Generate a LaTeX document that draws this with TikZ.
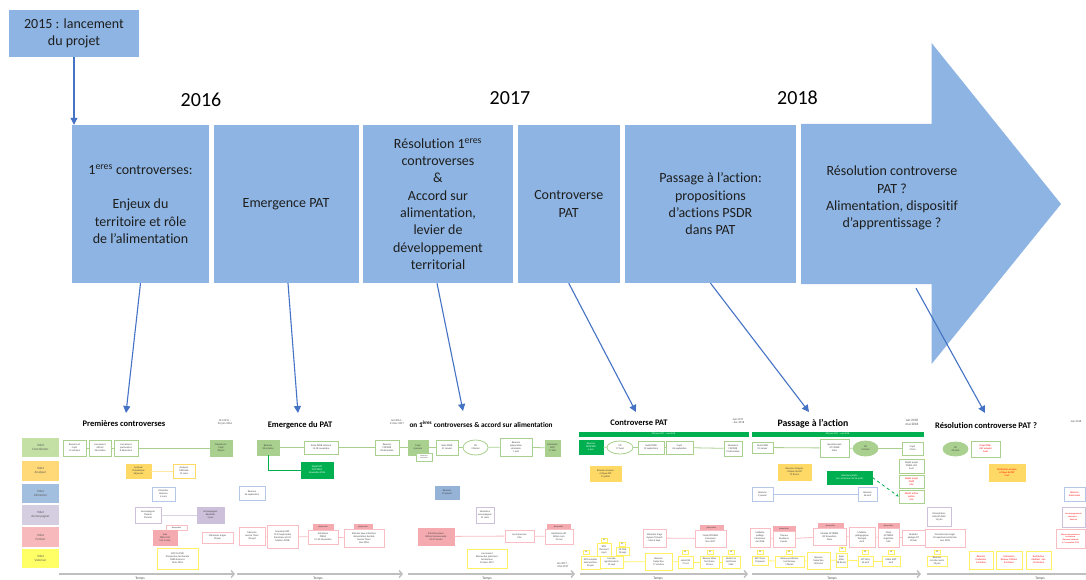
\documentclass[tikz,border=0pt]{standalone}
\usepackage{fontspec}
\setmainfont{Carlito}[Ligatures=NoCommon]
\usetikzlibrary{arrows.meta,shapes.geometric,calc}
\definecolor{pblue}{RGB}{141,180,226}
\definecolor{lnk}{RGB}{68,114,196}
\definecolor{vG}{RGB}{196,224,164}
\definecolor{vO}{RGB}{255,217,120}
\definecolor{vB}{RGB}{163,191,223}
\definecolor{vL}{RGB}{213,205,224}
\definecolor{vP}{RGB}{247,185,188}
\definecolor{vY}{RGB}{255,255,102}
\definecolor{gOut}{RGB}{169,208,142}
\definecolor{gFil}{RGB}{169,208,142}
\definecolor{gDk}{RGB}{0,176,80}
\definecolor{oFil}{RGB}{255,217,102}
\definecolor{bOut}{RGB}{180,199,231}
\definecolor{bFil}{RGB}{149,179,215}
\definecolor{lOut}{RGB}{204,192,218}
\definecolor{pOut}{RGB}{248,190,195}
\definecolor{pFil}{RGB}{245,170,175}
\definecolor{yOut}{RGB}{255,240,100}
\definecolor{tgray}{RGB}{191,191,191}
\definecolor{rtxt}{RGB}{255,0,0}
\definecolor{ink}{RGB}{30,30,30}
\newcommand\bx[7]{\node[sb,#6,minimum width={#4-#2},minimum height={#5-#3}] (#1) at ({(#2+#4)/2},{(#3+#5)/2}) {#7};}
\newcommand\ctag[3]{\node[ctagS] (#1) at (#2,#3) {C3};}
\begin{document}
\begin{tikzpicture}[x=1pt,y=-1pt,
  phase/.style={rectangle,fill=pblue,inner sep=2pt,align=center,text=ink,font=\fontsize{14}{17.3}\selectfont},
  yr/.style={font=\fontsize{20}{22}\selectfont,text=black},
  conn/.style={draw=lnk,line width=1.1pt,-{Triangle[length=7pt,width=7pt]}},
  sb/.style={rectangle,inner sep=0.2pt,line width=0.8pt,align=center,text=black!75,font=\fontsize{2.5}{3}\selectfont},
  gO/.style={draw=gOut,fill=white},
  gF/.style={draw=gFil,fill=gFil},
  gD/.style={draw=gDk,fill=gDk,text=white},
  oO/.style={draw=oFil,fill=white},
  oF/.style={draw=oFil,fill=oFil},
  bO/.style={draw=bOut,fill=white},
  bF/.style={draw=bFil,fill=bFil},
  lO/.style={draw=lOut,fill=white},
  lF/.style={draw=lOut,fill=lOut},
  pO/.style={draw=pOut,fill=white},
  pF/.style={draw=pFil,fill=pFil},
  pq/.style={draw=pFil,fill=pFil,font=\fontsize{2.2}{2.5}\selectfont},
  yO/.style={draw=yOut,fill=white},
  redt/.style={text=rtxt},
  ellS/.style={ellipse,inner sep=0pt,line width=0.8pt,align=center,text=black!75,font=\fontsize{2.5}{3}\selectfont},
  ctagS/.style={rectangle,draw=yOut,fill=white,line width=0.6pt,minimum width=6,minimum height=4,inner sep=0pt,font=\fontsize{1.8}{2}\selectfont},
  ttl/.style={font=\fontsize{8.5}{9}\selectfont\bfseries,text=black},
  dt/.style={align=center,font=\fontsize{2.8}{3.3}\selectfont,text=black!70},
  volet/.style={rectangle,minimum width=37,minimum height=19.5,inner sep=0pt,align=center,text=black!65,font=\fontsize{3.3}{4.2}\selectfont},
  gln/.style={draw=gOut,line width=0.8pt},
  gdln/.style={draw=gDk,line width=0.8pt},
  oln/.style={draw=oFil!60,line width=0.8pt},
  bln/.style={draw=bOut,line width=0.8pt},
  lln/.style={draw=lOut!70,line width=0.8pt},
  pln/.style={draw=pOut,line width=0.8pt},
  yln/.style={draw=yOut,line width=0.8pt},
  tarr/.style={draw=tgray,line width=1.4pt,-{Straight Barb[length=3pt,width=7pt]}},
  tlab/.style={font=\fontsize{3.6}{4}\selectfont,text=black!70}]
\useasboundingbox (0,0) rectangle (1086,580);
\fill[white] (0,0) rectangle (1086,580);

% ---------- top timeline ----------
\fill[pblue] (801,124) -- (931.6,124) -- (931.6,43) -- (1061,204) -- (931.6,364) -- (931.6,284) -- (801,284) -- cycle;
\node[phase,minimum width=130,minimum height=47] (t0) at (74,33.5) {2015 : lancement\\du projet};
\node[phase,minimum width=137,minimum height=158] (b1) at (140.5,204) {1\textsuperscript{eres} controverses:\\[17.3pt]Enjeux du\\territoire et rôle\\de l’alimentation};
\node[phase,minimum width=145,minimum height=158] (b2) at (286,204) {Emergence PAT};
\node[phase,minimum width=150,minimum height=158] (b3) at (438,204) {Résolution 1\textsuperscript{eres}\\controverses\\\&\\Accord sur\\alimentation,\\levier de\\développement\\territorial};
\node[phase,minimum width=101.5,minimum height=158] (b4) at (568.75,204) {Controverse\\PAT};
\node[phase,minimum width=171,minimum height=158] (b5) at (710.5,204) {Passage à l’action:\\propositions\\d’actions PSDR\\dans PAT};
\node[rectangle,minimum width=230,minimum height=160,inner sep=0pt] (b6) at (916,204) {};
\node[phase,fill=none] (b6t) at (892,198) {Résolution controverse\\PAT ?\\Alimentation, dispositif\\d’apprentissage ?};
\node[yr] (y16) at (201,100) {2016};
\node[yr] (y17) at (510,98) {2017};
\node[yr] (y18) at (797.5,98) {2018};
\draw[conn] (t0.south) -- (t0.south |- b1.north);

% ---------- bottom: volets ----------
\node[volet,fill=vG] (vc) at (40.5,447.5) {Volet\\Coordonner};
\node[volet,fill=vO] (va) at (40.5,471) {Volet\\Analyser};
\node[volet,fill=vB] (vm) at (40.5,493.5) {Volet\\Alimenter};
\node[volet,fill=vL] (vk) at (40.5,515) {Volet\\Accompagner};
\node[volet,fill=vP] (vf) at (40.5,537) {Volet\\Former};
\node[volet,fill=vY] (vv) at (40.5,558.5) {Volet\\Valoriser};

% ---------- panel 1 ----------
\node[ttl] (h1) at (124,424) {Premières controverses};
\node[dt] (d1) at (225,422) {Oct 2015 –\\20 juin 2016};
\bx{a1}{63}{440}{86}{456}{gO}{Réunion et\\Copil\\15 octobre}
\bx{a2}{89}{440}{111}{456}{gO}{Lancement\\officiel\\26 octobre}
\bx{a3}{114}{440}{138}{456}{gO}{Lancement\\partenaires\\8 décembre}
\bx{a4}{210}{440}{232}{456}{gF}{Réunion et\\Copil\\20 juin}
\draw[gln] (a1) -- (a2); \draw[gln] (a2) -- (a3); \draw[gln] (a3) -- (a4);
\bx{a5}{126}{464}{151}{478}{oF}{Analyser\\Thématique\\26 janvier}
\bx{a6}{173}{464}{195}{478}{oO}{Analyser\\Méthode\\15 mars}
\draw[oln] (a5) -- (a6);
\bx{a7}{152}{487}{175}{501}{bO}{Alimenter\\Réunion\\4 mars}
\bx{a8}{135}{507}{161}{523}{lO}{Accompagner\\Théorie\\5 février}
\bx{a9}{197}{507}{224}{523}{lF}{Accompagner\\Résultats\\3 juin}
\draw[lln] (a8) -- (a9);
\bx{a10}{166}{525}{187}{530}{pO,font=\fontsize{2.2}{2.5}\selectfont}{plaquettes}
\bx{a11}{153}{530}{177}{545}{pF}{Jeux\\PNR et GC\\2 et 3 mars}
\bx{a12}{202}{532}{233}{543}{pO}{Mémoires stages\\20 juin}
\bx{a13}{157}{548}{198}{569}{yO}{ART GC/PNR\\Prospective territoriale\\CNRS Sciences\\Mars 2016}

% ---------- panel 2 ----------
\node[ttl] (h2) at (300,425) {Emergence du PAT};
\bx{e1}{257}{440}{279}{455}{gF}{Réunion\\20 octobre}
\bx{e2}{304}{441}{338}{454}{gO}{Ecole PSDR national\\15-18 novembre}
\draw[gln] (e1) -- (e2);
\bx{e3}{301}{462}{333}{478}{gD}{Dépôt PAT\\GC/PNRLF\\Novembre 2016}
\draw[gdln] (e1.south) |- (e3.west);
\bx{e4}{239}{486}{265}{500}{bO}{Réunion\\26 septembre}
\bx{e5}{239}{527}{265}{545}{pO}{Mémoire\\Jessica Thoni\\30 sept}
\bx{e6}{267}{525}{298}{548}{pO}{Semaine IADT\\19-23 septembre\\Entretiens et IAT\\Masters DTNE}
\bx{e7}{313}{524}{333}{529}{pq}{plaquettes}
\bx{e8}{308}{530}{338}{544}{pO}{Entretiens\\PNRLF\\21-25 Novembre}
\bx{e9}{354}{524}{372}{529}{pq}{plaquettes}
\bx{e10}{344}{529}{384}{547}{pO}{Etat des lieux initiatives\\alimentation durable\\Jessica Thoni\\Nov 2016}
\draw[pln] (e5) -- (e6); \draw[pln] (e6) -- (e8); \draw[pln] (e8) -- (e10);

% ---------- panel 3 ----------
\node[dt] (d3) at (397,422) {Juil 2016 –\\31 Dec 2017};
\node[ttl,anchor=west,font=\fontsize{7.3}{8}\selectfont\bfseries] (h3) at (406,424) {on 1\textsuperscript{ères} controverses \& accord sur alimentation};
\bx{f1}{375}{440}{399}{455}{gO}{Réunion\\CAPDOR\\20 décembre}
\draw[gln] (e2) -- (f1);
\bx{f2}{408}{440}{428}{455}{gF}{Copil\\6 janvier}
\bx{f3}{416}{453}{432}{461}{gO,font=\fontsize{1.8}{2.1}\selectfont}{Séminaire\\recherche}
\bx{f4}{436}{440}{458}{455}{gO}{Note PSDR\\31 Janvier}
\node[ellS,draw=gOut,fill=white,minimum width=25,minimum height=15] (f5) at (475.5,447.5) {CD\\3 février};
\bx{f6}{500}{438}{532}{456}{gO}{Réunion\\préparation\\séminaire\\7 avril}
\bx{f7}{545}{440}{560}{456}{gF}{Séminaire\\IADT\\11 Mai}
\draw[gln] (f1) -- (f2); \draw[gln] (f2) -- (f4); \draw[gln] (f4) -- (f5); \draw[gln] (f5) -- (f6); \draw[gln] (f6) -- (f7);
\bx{f8}{435}{486}{459}{499}{bF}{Réunion\\31 janvier}
\bx{f9}{476}{507}{494}{523}{lO}{Séminaire\\accompagner\\31 mars}
\bx{f10}{418}{528}{454}{545}{pF}{Entretiens/jeux\\Billom Communauté\\23-27 Janvier}
\bx{f11}{505}{530}{534}{542}{pO}{Jeu Cameroun\\Mai}
\bx{f12}{547}{524.5}{570}{528.5}{pq}{plaquettes}
\bx{f13}{545}{529}{573}{544}{pO}{Restitution IAT\\Billom com\\31 mai}
\draw[pln] (f10) -- (f11); \draw[pln] (f11) -- (f13);
\bx{f14}{467}{549}{507}{568}{yO}{Lancement\\Réseau des praticiens\\territoriaux\\23 mars 2017}
\node[dt] (d3b) at (563,565) {Jan 2017 –\\Mai 2017};

% ---------- panel 4 ----------
\node[ttl] (h4) at (639,423) {Controverse PAT};
\bx{g0}{579}{432}{748}{436.5}{gD,font=\fontsize{2.3}{2.5}\selectfont}{PAT juin 2017 – mai 2018}
\node[dt] (d4) at (738,421) {Juin 2017\\– dec 2018};
\bx{g1}{579}{440}{603}{454}{gD}{Réunion\\PROPSDR\\6 juin}
\node[ellS,draw=gOut,fill=white,minimum width=26,minimum height=13] (g2) at (620,447.5) {CD\\17 Aout};
\bx{g3}{638}{441}{664}{454}{gO}{Audit PSDR\\19 septembre}
\bx{g4}{666}{441}{693}{454}{gO}{Copil\\26 septembre}
\bx{g5}{724}{441}{742}{456}{gO}{Séminaire\\CAPDOR\\21 décembre}
\draw[gln] (g1) -- (g2); \draw[gln] (g2) -- (g3); \draw[gln] (g3) -- (g4); \draw[gln] (g4) -- (g5);
\bx{g6}{590}{466}{621}{481}{oF}{Réunion analyse\\critique PAT\\19 juillet}
\bx{g7}{643}{529}{666}{547}{pO}{Mémoire stage\\Aymen Trimech\\Mars à Sept}
\bx{g8}{700}{525}{723}{530}{pq}{plaquettes}
\bx{g9}{695}{530}{726}{547}{pO}{Flash ACTERRA\\Cameroun\\Nov 2017}
\draw[pln] (g7) -- (g9);
\bx{g10}{581}{556}{600}{569}{yO}{ART comptes\\interventions\\26 juin}
\bx{g11}{597}{543}{611}{556}{yO}{EPCI\\Clermont\\6 juil}
\bx{g12}{600}{556}{623}{568}{yO}{Journée\\agroforesterie\\19 sept}
\bx{g13}{616}{547}{629}{555}{yO}{CE PNR\\18 sept}
\bx{g14}{645}{553}{672}{570}{yO}{Réunion\\traduction\\17 octobre}
\bx{g15}{678}{556}{693}{568}{yO}{salon ESS\\17 oct}
\bx{g16}{700}{556}{719}{568}{yO}{Réseau Villes\\Territoires\\30 nov}
\bx{g17}{722}{556}{740}{568}{yO}{Ateliers \&\\territoires\\5 déc}
\draw[yln] (g12) -- (g14); \draw[yln] (g14) -- (g15); \draw[yln] (g15) -- (g16); \draw[yln] (g16) -- (g17);
\ctag{c1}{586}{552}
\ctag{c2}{604}{540}
\ctag{c3}{622}{544}
\ctag{c4}{685}{552}
\ctag{c5}{710}{552}
\ctag{c6}{731}{552}

% ---------- panel 5 ----------
\node[ttl,font=\fontsize{9.8}{11}\selectfont\bfseries] (h5) at (813,424) {Passage à l’action};
\bx{h0}{752}{432}{923}{436.5}{gD,font=\fontsize{2.3}{2.5}\selectfont}{PAT juin 2017 – mai 2018}
\node[dt,font=\fontsize{3.4}{4}\selectfont] (d5) at (912,422) {Jan 2018\\mai 2018};
\bx{k1}{752}{442}{773}{453}{gO}{Note PSDR\\31 Janvier}
\bx{k2}{820}{439}{849}{457}{gO}{Questionnaire\\GT3 PSDR\\Mars}
\node[ellS,draw=gFil,fill=gFil,minimum width=25,minimum height=15] (k3) at (865.5,448.5) {CD\\14 Mars};
\bx{k4}{902}{442}{923}{455}{gO}{Copil\\3 Mai}
\draw[gln] (k1) -- (k2); \draw[gln] (k2) -- (k3); \draw[gln] (k3) -- (k4);
\bx{k5}{778}{464}{811}{480}{oF}{Réunion Analyser\\critique du PAT\\12 février}
\bx{k6}{827}{471}{872}{484}{gD}{Réunions jardin\\(ier. et 26 mars et 25 avril)}
\bx{k7}{899}{459}{924}{473}{gO}{Dépôt projet\\PNRLF-USC\\Avril}
\bx{k8}{899}{475}{924}{488}{gO,redt}{Dépôt projet\\FNAP\\Mai}
\bx{k9}{899}{490}{924}{503}{gO,redt}{Dépôt action\\jardins\\mai}
\draw[gdln,-{Stealth[length=3pt,width=3pt]},dashed] (k6.east) -- (k9.west);
\bx{k10}{752}{487}{773}{501}{bO}{Réunion\\9 janvier}
\bx{k11}{858}{487}{877}{501}{bO}{Réunion\\26 avril}
\draw[bln] (k10) -- (k11);
\bx{k12}{750}{528}{770}{547}{pO}{Mallette\\pédago\\Cameroun\\Jan 2018}
\bx{k13}{773}{526}{795}{531}{pq}{plaquettes}
\bx{k14}{773}{531}{795}{547}{pO}{Travaux\\étudiants\\Janvier}
\bx{k15}{818}{523}{843}{528}{pq}{plaquettes}
\bx{k16}{813}{528}{846}{545}{pO}{Module ACTERRA\\IAT Roussillon\\Mars}
\bx{k17}{849}{527}{875}{547}{pO}{Mallette\\pédagogique\\Portugal\\Avril}
\bx{k18}{878}{523}{899}{528}{pq}{plaquettes}
\bx{k19}{878}{528}{899}{547}{pO}{Flash\\ACTERRA\\Argentine\\Mai}
\bx{k20}{902}{530}{925}{545}{pO}{Mallette\\pédago CIT\\20 mai}
\draw[pln] (k12) -- (k14); \draw[pln] (k14) -- (k16); \draw[pln] (k16) -- (k17); \draw[pln] (k17) -- (k19); \draw[pln] (k19) -- (k20);
\bx{k21}{752}{556}{768}{565}{yO}{EPCI Turin\\10 janvier}
\bx{k22}{775}{556}{804}{567}{yO}{Réseau praticiens\\territoriaux\\1 février}
\bx{k23}{807}{552}{830}{569}{yO}{Réunion\\traduction\\12 février}
\bx{k24}{836}{553}{847}{567}{yO}{Expé\\Allier\\28 février}
\bx{k25}{858}{556}{873}{566}{yO}{IAT Vichy\\24 avril}
\bx{k26}{882}{556}{900}{566}{yO}{Vidéo IADT\\avril}
\draw[yln] (k21) -- (k22); \draw[yln] (k22) -- (k23); \draw[yln] (k23) -- (k24); \draw[yln] (k24) -- (k25); \draw[yln] (k25) -- (k26);
\ctag{c7}{760}{552}
\ctag{c8}{789}{552}
\ctag{c9}{842}{549}
\ctag{c10}{865}{552}
\ctag{c11}{891}{552}

% ---------- panel 6 ----------
\node[ttl,font=\fontsize{8.5}{10}\selectfont\bfseries] (h6) at (986,426) {Résolution controverse PAT ?};
\node[dt] (d6) at (1076,422) {Juin 2018};
\node[ellS,draw=gFil,fill=gFil,minimum width=25,minimum height=14] (m1) at (955.5,449) {CD\\29 Aout};
\bx{m2}{971}{441}{1000}{457}{gO,redt}{Projet PNR-\\USC accepté\\Août}
\bx{m3}{989}{464}{1025}{481}{oF,redt}{Restitution analyse\\critique du PAT\\3 oct}
\bx{m4}{927}{507}{951}{526}{lO}{Présentation\\collectif AVEC\\14 juin}
\bx{m5}{925}{529}{965}{547}{pO}{Formation/ancrages\\Prospective territoriale\\Juin 2018}
\bx{m6}{927}{556}{947}{566}{yO}{Réunion\\circuits courts\\25 juin}
\bx{m7}{969}{551}{993}{569}{yO,redt}{Réunion\\traduction\\5 octobre}
\bx{m8}{996}{551}{1022}{569}{yO,redt}{Séminaires\\Réseau C Billom\\8 octobre}
\bx{m9}{1026}{551}{1051}{569}{yO,redt}{Restitution\\étudiant. Juin\\18 octobre}
\bx{m10}{1064}{487}{1085}{501}{bO,redt}{Réunion\\Autonomie}
\bx{m11}{1062}{507}{1085}{527}{lO,redt,font=\fontsize{2.2}{2.7}\selectfont}{Accompagnement\\séminaire ...\\Sept-oct}
\bx{m12}{1056}{529}{1085}{548}{pO,redt,font=\fontsize{2.1}{2.6}\selectfont}{Réseau des praticiens\\territoriaux\\Itinéraire méthode\\6-7 novembre 2018}
\ctag{c12}{937}{552}

% ---------- Temps arrows ----------
\coordinate (ta1) at (59,574); \coordinate (tb1) at (235,574);
\coordinate (ta2) at (237,574); \coordinate (tb2) at (403,574);
\coordinate (ta3) at (408,574); \coordinate (tb3) at (575,574);
\coordinate (ta4) at (580,574); \coordinate (tb4) at (748,574);
\coordinate (ta5) at (752,574); \coordinate (tb5) at (921,574);
\coordinate (ta6) at (927,574); \coordinate (tb6) at (1090,574);
\draw[tarr] (ta1) -- (tb1); \draw[tarr] (ta2) -- (tb2); \draw[tarr] (ta3) -- (tb3);
\draw[tarr] (ta4) -- (tb4); \draw[tarr] (ta5) -- (tb5); \draw[tarr] (ta6) -- (tb6);
\node[tlab] (tl1) at (140,578.5) {Temps};
\node[tlab] (tl2) at (318,578.5) {Temps};
\node[tlab] (tl3) at (487,578.5) {Temps};
\node[tlab] (tl4) at (658,578.5) {Temps};
\node[tlab] (tl5) at (832,578.5) {Temps};
\node[tlab] (tl6) at (1040,578.5) {Temps};

% ---------- connectors phases -> detailed charts ----------
\coordinate (p1) at (126,413);
\coordinate (p2) at (298,413);
\coordinate (p3) at (463,411);
\coordinate (p4) at (636,412);
\coordinate (p5) at (809,412);
\coordinate (p6) at (985,413);
\draw[conn] (b1.south) -- (p1);
\draw[conn] ([xshift=2pt]b2.south) -- (p2);
\draw[conn] ([xshift=-1pt]b3.south) -- (p3);
\draw[conn] (b4.south) -- (p4);
\draw[conn] (b5.south) -- (p5);
\draw[conn] ([yshift=-4pt]b6.south) -- (p6);
\end{tikzpicture}
\end{document}
